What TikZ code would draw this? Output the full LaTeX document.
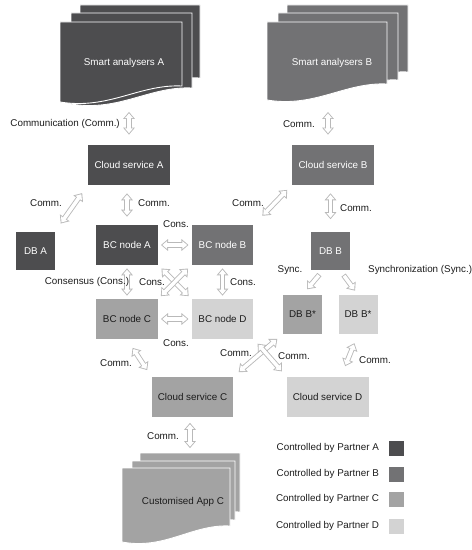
\documentclass[tikz,border=0pt]{standalone}
\usepackage{fontspec}
\setmainfont{Liberation Sans}
\usetikzlibrary{arrows.meta,calc,positioning}

\definecolor{partnerA}{HTML}{4D4D4F}
\definecolor{partnerB}{HTML}{727274}
\definecolor{partnerC}{HTML}{A3A3A3}
\definecolor{partnerD}{HTML}{D3D3D3}
\definecolor{ink}{HTML}{1C1C1C}

\newcommand{\fs}{\fontsize{5.6}{6.5}\selectfont}
% one sheet of a document stack, wavy lower edge (x0,y0,x1,bottom-left y,colour)
\newcommand{\docsheet}[5]{%
  \path[fill=#5,draw=white,line width=0.5pt] (#1,#2) -- (#3,#2) -- (#3,#4-16)
    .. controls ({#3-0.35*(#3-#1)},#4-18) and ({#1+0.4*(#3-#1)},#4+8) .. (#1,#4) -- cycle;}

\begin{document}
\begin{tikzpicture}[x=0.02cm,y=-0.02cm,font=\fs,text=ink,
  hd/.tip={Triangle[length=4pt,width=6.5pt]},
  hdin/.tip={Triangle[length=2.7pt,width=4.4pt]},
  box/.style={inner sep=0pt,minimum height=0.8cm},
  cloud/.style={box,minimum width=1.64cm},
  bc/.style={box,minimum width=1.24cm},
  db/.style={box,minimum width=0.78cm,minimum height=0.78cm},
  pa/.style={fill=partnerA,text=white},
  pb/.style={fill=partnerB,text=white},
  pc/.style={fill=partnerC},
  pd/.style={fill=partnerD},
  key/.style={minimum size=0.3cm,inner sep=0pt},
  % hollow double-headed arrow, args: shorten start / end
  link/.style 2 args={draw=gray!55,line width=3pt,shorten <=#1,shorten >=#2,hd-hd,
    postaction={draw=white,line width=2pt,shorten <=#1+0.8pt,shorten >=#2+0.8pt,hdin-hdin}},
  % hollow single-headed arrow
  feed/.style 2 args={draw=gray!55,line width=3pt,shorten <=#1,shorten >=#2,-hd,
    postaction={draw=white,line width=2pt,shorten <=#1+0.5pt,shorten >=#2+0.8pt,-hdin}}]
  \useasboundingbox (0,0) rectangle (471,550);

  % document stacks
  \docsheet{80}{5}{200}{94}{partnerA}
  \docsheet{71}{13}{192}{104}{partnerA}
  \docsheet{60}{22}{182}{102}{partnerA}
  \node[text=white] (docA) at (124,63) {Smart analysers A};
  \coordinate (docAbot) at (129,104);

  \docsheet{287}{5}{408}{88}{partnerB}
  \docsheet{278}{13}{398}{96}{partnerB}
  \docsheet{267}{22}{387}{100}{partnerB}
  \node[text=white] (docB) at (332,63) {Smart analysers B};
  \coordinate (docBbot) at (328,103);

  \docsheet{140}{453}{240}{528}{partnerC}
  \docsheet{132}{461}{235}{536}{partnerC}
  \docsheet{122}{468}{230}{542}{partnerC}
  \node (appC) at (183,502) {Customised App C};
  \coordinate (appCtop) at (190,468);

  % boxes
  \node[cloud,pa] (cloudA) at (129,165) {Cloud service A};
  \node[cloud,pb] (cloudB) at (333,165) {Cloud service B};
  \node[db,pa] (dbA) at (35.5,251) {DB A};
  \node[bc,pa] (bcA) at (127,245) {BC node A};
  \node[bc,pb] (bcB) at (222.5,245) {BC node B};
  \node[bc,pc] (bcC) at (127,319) {BC node C};
  \node[bc,pd] (bcD) at (222.5,319) {BC node D};
  \node[db,pb] (dbB) at (330.5,251) {DB B};
  \node[db,pc] (dbBl) at (302.5,314.5) {DB B*};
  \node[db,pd] (dbBr) at (358,314.5) {DB B*};
  \node[cloud,pc] (cloudC) at (192.5,396.5) {Cloud service C};
  \node[cloud,pd] (cloudD) at (327.5,396.5) {Cloud service D};

  % communication
  \draw[link={4.5pt}{5.7pt}] (docAbot) -- (docAbot |- cloudA.north);
  \draw[link={5.1pt}{5.7pt}] (docBbot) -- (docBbot |- cloudB.north);
  \draw[link={5.4pt}{5.3pt}] (cloudA.south west) -- (dbA.north east);
  \draw[link={4.5pt}{4.5pt}] (bcA.north |- cloudA.south) -- (bcA.north);
  \draw[link={3.6pt}{7pt}] (cloudB.south west) -- (bcB.north east);
  \draw[link={4.5pt}{6.8pt}] (dbB.north |- cloudB.south) -- (dbB.north);
  \draw[link={5.8pt}{4.1pt}] (bcC.south) -- (cloudC.north west);
  \draw[link={4pt}{3.6pt}] (dbBl.south west) -- (cloudC.north east);
  \draw[link={3.3pt}{3.6pt}] (bcD.south east) -- (cloudD.north west);
  \draw[link={5.4pt}{6.1pt}] (dbBr.south) -- ($(cloudD.north)!0.33!(cloudD.north east)$);
  \draw[link={3.4pt}{11.3pt}] (appCtop |- cloudC.south) -- (appCtop);

  % consensus
  \draw[link={1.5pt}{1.5pt}] (bcA.east) -- (bcB.west);
  \draw[link={1.5pt}{1.5pt}] (bcC.east) -- (bcD.west);
  \draw[link={1.7pt}{1.7pt}] (bcA.south) -- (bcC.north);
  \draw[link={1.7pt}{1.7pt}] (bcB.south) -- (bcD.north);
  \draw[link={2.5pt}{2pt}] (bcA.south east) -- (bcD.north west);
  \draw[link={2.5pt}{2pt}] (bcB.south west) -- (bcC.north east);

  % synchronization
  \draw[feed={2.8pt}{4pt}] ($(dbB.south)!0.4!(dbB.south west)$) -- (dbBl.north);
  \draw[feed={3pt}{2.8pt}] ($(dbB.south)!0.5!(dbB.south east)$) -- (dbBr.north);

  % arrow labels
  \node[anchor=east] (lcommA) at (126,124) {Communication (Comm.)};
  \node[anchor=east] (lcommB) at (321,124) {Comm.};
  \node (lcommAdb) at (46,203) {Comm.};
  \node (lcommAbc) at (154,203) {Comm.};
  \node (lcommBbc) at (248,203) {Comm.};
  \node (lcommBdb) at (356,208) {Comm.};
  \node (lconsAB) at (176,224) {Cons.};
  \node (lconsAC) at (87,282) {Consensus (Cons.)};
  \node (lconsX) at (152,282) {Cons.};
  \node (lconsBD) at (243,282) {Cons.};
  \node (lconsCD) at (176,343) {Cons.};
  \node (lcommC) at (116,363) {Comm.};
  \node (lsync) at (290,270) {Sync.};
  \node[anchor=west] (lsyncfull) at (362,270) {Synchronization (Sync.)};
  \node (lcommX) at (236,353) {Comm.};
  \node (lcommY) at (294,356) {Comm.};
  \node (lcommD) at (375,360) {Comm.};
  \node (lcommApp) at (163,436) {Comm.};

  % legend
  \foreach \p/\y in {A/448,B/474,C/499,D/526} {
    \node[key,fill=partner\p] (key\p) at (396.5,\y) {};
    \node[left=0.07cm of key\p] (txt\p) {Controlled by Partner \p};
  }
\end{tikzpicture}
\end{document}
